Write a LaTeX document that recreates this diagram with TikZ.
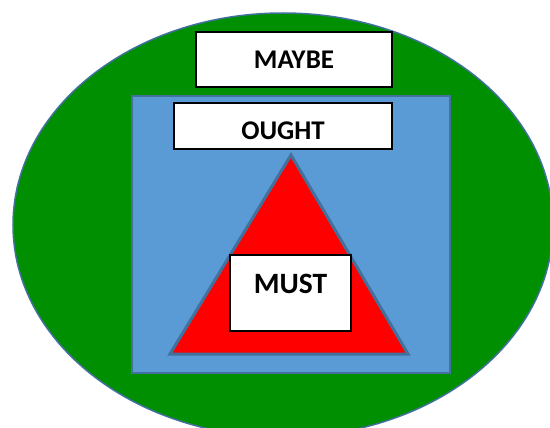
\documentclass[tikz,border=0pt]{standalone}
\usepackage{fontspec}
\setmainfont{Carlito}
\usetikzlibrary{positioning}
\definecolor{outerGreen}{HTML}{008F00}
\definecolor{midBlue}{HTML}{5B9BD5}
\definecolor{edgeBlue}{HTML}{41719C}

\begin{document}
\begin{tikzpicture}[
  x=1pt, y=-1pt,
  word box/.style={rectangle, draw=black, line width=1.5pt, fill=white, inner sep=0pt, font=\fontsize{27}{31}\selectfont\bfseries},
  shape edge/.style={draw=edgeBlue, line width=1.5pt}
]

\clip (0,0) rectangle (550,428);
\fill[white] (0,0) rectangle (550,428);

\draw[shape edge, fill=outerGreen] (283,225) ellipse [x radius=270, y radius=212];
\draw[shape edge, fill=midBlue, line width=2.5pt] (132,96) rectangle (450,373);
\draw[shape edge, fill=red, line width=3pt] (291,155) -- (408,354) -- (170,354) -- cycle;

\node [word box, minimum width=196pt, minimum height=55pt] (maybe) at (294,59.5) {MAYBE};
\node [word box, minimum width=218pt, minimum height=46pt, text height=27pt, text depth=0pt] (ought) at (283,126) {OUGHT};
\node [word box, minimum width=121pt, minimum height=76pt, text height=19pt, text depth=18pt, font=\fontsize{29.5}{33}\selectfont\bfseries] (must) at (290.5,293) {MUST};

\end{tikzpicture}
\end{document}
